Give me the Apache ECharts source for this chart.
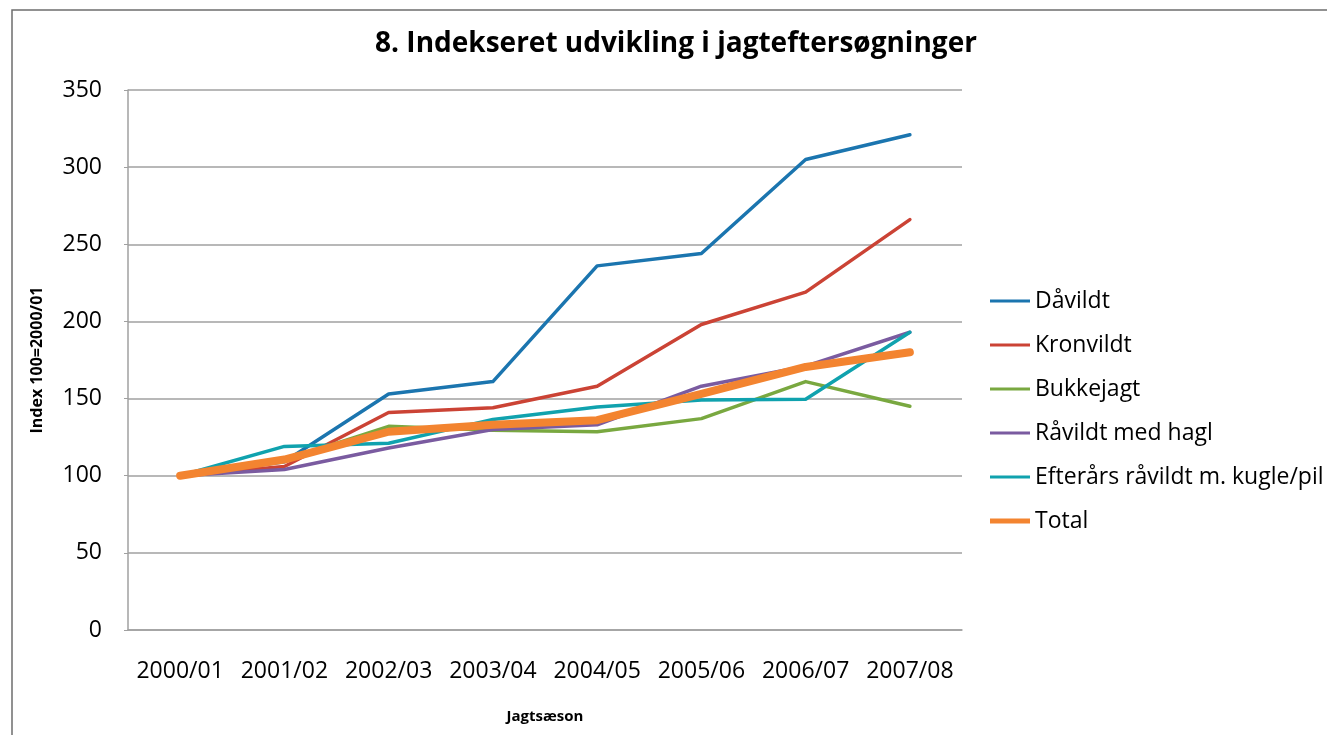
<!DOCTYPE html>
<html>
<head>
<meta charset="utf-8">
<script src="https://cdn.jsdelivr.net/npm/echarts@6/dist/echarts.min.js"></script>
<style>
	html, body { margin: 0; padding: 0; background: #fff; }
	#chart { width: 1327px; height: 735px; }
</style>
</head>
<body>
<div id="chart"></div>
<script>
// sæsoner og indekstal (2000/01 = 100)
const seasons = ['2000/01', '2001/02', '2002/03', '2003/04', '2004/05', '2005/06', '2006/07', '2007/08'];
const daavildt = [100, 109, 153, 161, 236, 244, 305, 321];
const kronvildt = [100, 106, 141, 144, 158, 198, 219, 266];
const bukkejagt = [100, 110, 132, 129.5, 128.5, 137, 161, 145];
const raavildtHagl = [100, 104, 118, 130, 133, 158, 171, 193];
const efteraarsRaavildt = [100, 119, 121, 136.5, 144.5, 149, 149.5, 193];
const total = [100, 110.5, 128.5, 133, 136, 153, 170.5, 180];

const font = 'Open Sans';
const lineIcon = 'path://M0,0 L40,0 L40,3 L0,3 Z';
const thickIcon = 'path://M0,0 L40,0 L40,5 L0,5 Z';

const myChart = echarts.init(document.getElementById('chart'));

function line(name, data, color, width) {
	return {
		name: name,
		type: 'line',
		data: data,
		symbol: 'none',
		lineStyle: { color: color, width: width, cap: 'round', join: 'round' },
		itemStyle: { color: color },
		animation: false
	};
}

const option = {
	title: {
		text: '8. Indekseret udvikling i jagteftersøgninger',
		left: 671,
		top: 25,
		textAlign: 'center',
		textStyle: { fontFamily: font, fontSize: 28, fontWeight: 'bold', color: '#000' }
	},
	graphic: [{
		type: 'rect',
		shape: { x: 12, y: 10, width: 1400, height: 800 },
		style: { fill: 'none', stroke: '#6e6e6e', lineWidth: 1.5 },
		silent: true
	}],
	legend: {
		orient: 'vertical',
		left: 985,
		top: 284,
		itemWidth: 40,
		itemHeight: 24,
		itemGap: 20,
		textStyle: { fontFamily: font, fontSize: 23, color: '#000', lineHeight: 24 },
		data: [
			{ name: 'Dåvildt', icon: lineIcon },
			{ name: 'Kronvildt', icon: lineIcon },
			{ name: 'Bukkejagt', icon: lineIcon },
			{ name: 'Råvildt med hagl', icon: lineIcon },
			{ name: 'Efterårs råvildt m. kugle/pil', icon: lineIcon },
			{ name: 'Total', icon: thickIcon }
		]
	},
	grid: { left: 128, right: 365, top: 90, bottom: 105 },
	xAxis: {
		type: 'category',
		data: seasons,
		name: 'Jagtsæson',
		nameLocation: 'middle',
		nameGap: 79,
		nameTextStyle: { fontFamily: font, fontSize: 15, fontWeight: 'bold', color: '#000' },
		axisLine: { lineStyle: { color: '#a0a0a0', width: 1.5 } },
		axisTick: { show: false },
		axisLabel: { interval: 0, fontFamily: font, fontSize: 23, color: '#000', margin: 30 }
	},
	yAxis: {
		type: 'value',
		min: 0,
		max: 350,
		interval: 50,
		name: 'Index 100=2000/01',
		nameLocation: 'middle',
		nameRotate: 90,
		nameGap: 83,
		nameTextStyle: { fontFamily: font, fontSize: 16, fontWeight: 'bold', color: '#000' },
		axisLine: { show: true, lineStyle: { color: '#a0a0a0', width: 1.5 } },
		axisTick: { show: true, length: 4, lineStyle: { color: '#a0a0a0' } },
		splitLine: { lineStyle: { color: '#a0a0a0', width: 1.5 } },
		axisLabel: { fontFamily: font, fontSize: 23, color: '#000', margin: 26 }
	},
	series: [
		line('Dåvildt', daavildt, '#1b75af', 3.5),
		line('Kronvildt', kronvildt, '#cb4335', 3.5),
		line('Bukkejagt', bukkejagt, '#79a840', 3.5),
		line('Råvildt med hagl', raavildtHagl, '#7a5ba0', 3.5),
		line('Efterårs råvildt m. kugle/pil', efteraarsRaavildt, '#10a2ae', 3.5),
		line('Total', total, '#f38430', 8)
	]
};

myChart.setOption(option);
</script>
</body>
</html>
